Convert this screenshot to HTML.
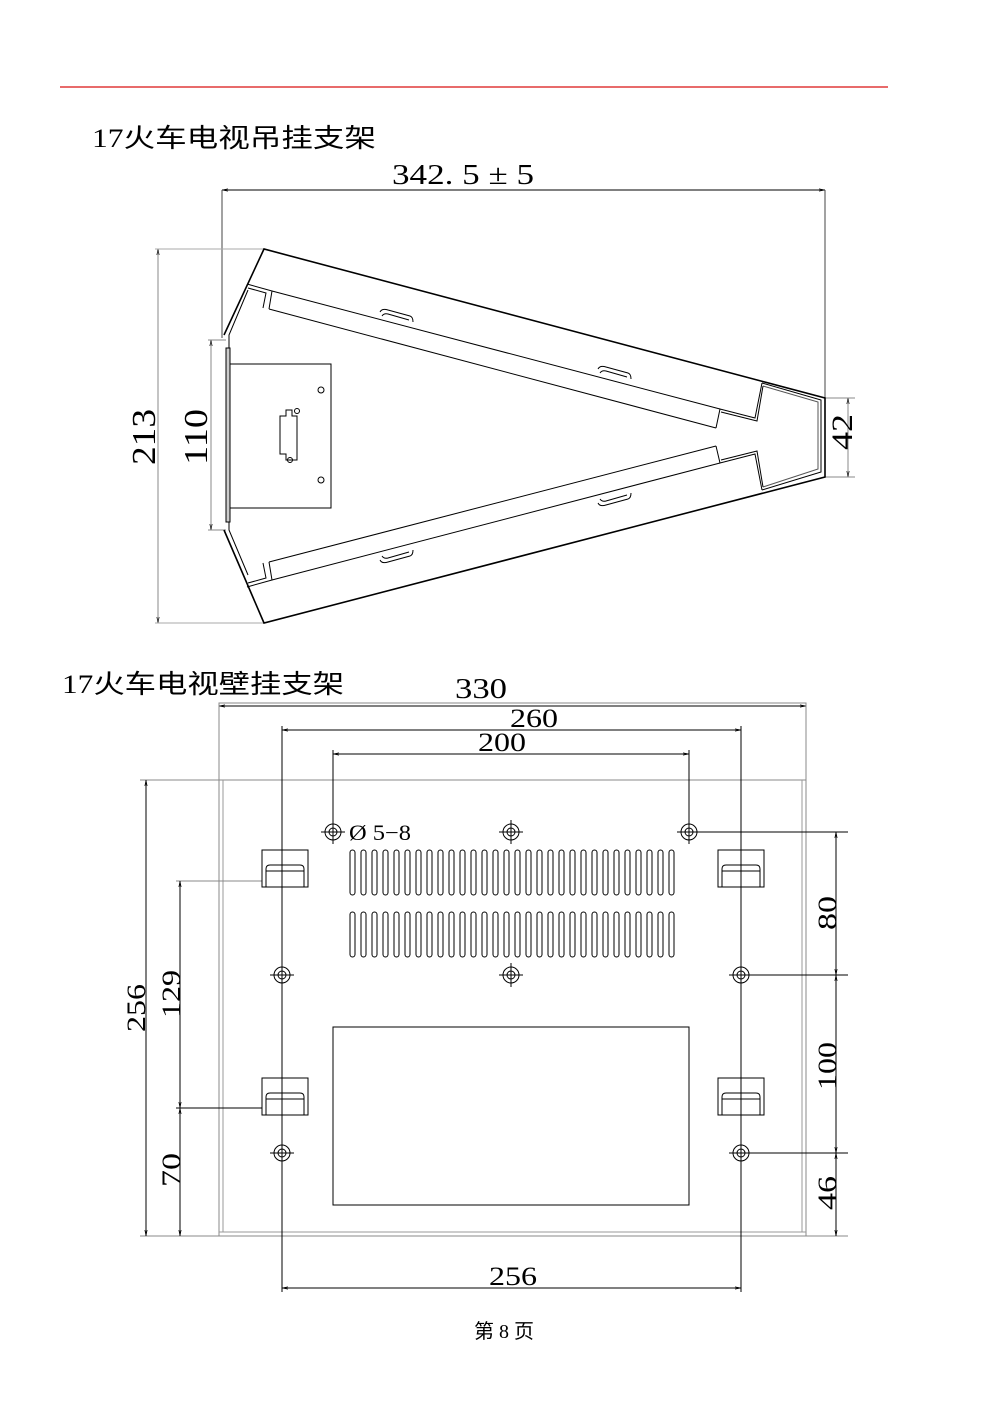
<!DOCTYPE html>
<html><head><meta charset="utf-8"><style>
html,body{margin:0;padding:0;background:#fff;}
svg{display:block;}
text{font-family:"Liberation Serif","Noto Serif CJK SC",serif;fill:#000;}
.cj{font-family:"Liberation Serif","Noto Sans CJK SC",serif;}
</style></head><body>
<svg width="993" height="1404" viewBox="0 0 993 1404" xmlns="http://www.w3.org/2000/svg">
<defs>
<marker id="a" viewBox="0 0 10 10" refX="10" refY="5" markerWidth="8" markerHeight="6" orient="auto-start-reverse"><path d="M0,3 L10,5 L0,7" fill="none" stroke="#000"/></marker>
<g id="h" stroke="#000" fill="none"><circle r="8"/><circle r="4"/><path d="M-12,0 h24 M0,-12 v24"/></g>
<g id="br" stroke="#000" fill="none"><rect x="262" y="850" width="46" height="37"/><path d="M266,887 v-18 q0,-4 4,-4 h30 q4,0 4,4 v18 M266,871 h38"/></g>
</defs>
<line x1="60" y1="87" x2="888" y2="87" stroke="#e03a3a" stroke-width="1.5"/>
<text x="92" y="147" font-size="26" class="cj" textLength="284" lengthAdjust="spacingAndGlyphs">17火车电视吊挂支架</text>
<text x="392" y="184" font-size="28" textLength="142" lengthAdjust="spacingAndGlyphs">342. 5 ± 5</text>

<g stroke="#000" fill="none" stroke-width="1">
<line x1="222" y1="190" x2="825" y2="190" marker-start="url(#a)" marker-end="url(#a)"/>
<line x1="222" y1="190" x2="222" y2="338" stroke="#444"/>
<line x1="825" y1="190" x2="825" y2="400" stroke="#444"/>
<line x1="158" y1="249" x2="158" y2="623" stroke="#888" marker-start="url(#a)" marker-end="url(#a)"/>
<line x1="155" y1="249" x2="264" y2="249" stroke="#aaa"/>
<line x1="155" y1="623" x2="264" y2="623" stroke="#aaa"/>
<line x1="211" y1="340" x2="211" y2="530" stroke="#888" marker-start="url(#a)" marker-end="url(#a)"/>
<line x1="208" y1="340" x2="226" y2="340" stroke="#888"/>
<line x1="208" y1="530" x2="226" y2="530" stroke="#888"/>
<line x1="848" y1="398" x2="848" y2="477" stroke="#888" marker-start="url(#a)" marker-end="url(#a)"/>
<line x1="825" y1="398" x2="855" y2="398" stroke="#888"/>
<line x1="825" y1="477" x2="855" y2="477" stroke="#888"/>
<polyline points="224,335 264,249 825,398 825,477 264,623 224,530" stroke-width="1.6"/>
<polyline points="248,290 229,335 229,530 248,575"/>
<!-- left corner plates -->
<polyline points="247,284 272,291 269,309"/>
<polyline points="248,288 266,293 263,308"/>
<polyline points="247,587 272,580 269,562"/>
<polyline points="248,583 266,578 263,563"/>
<!-- right liner -->
<polyline points="762,383 821,400 821,472 762,490"/>
<polyline points="763,386 818,402 818,469 763,487" stroke="#555"/>
<polyline points="762,383 755,418 720,409 716,428"/>
<polyline points="763,386 757,421 721,412"/>
<polyline points="762,490 755,454 720,463 716,446"/>
<polyline points="763,487 757,451 721,460"/>
<line x1="272" y1="291" x2="720" y2="409"/>
<line x1="269" y1="309" x2="716" y2="428"/>
<line x1="272" y1="580" x2="720" y2="463"/>
<line x1="269" y1="562" x2="716" y2="446"/>
<path d="M380,312 q2,-4 8,-2 l22,6 q3,1 3,6 M382,316 q2,-3 6,-2 l21,6"/>
<path d="M598,369 q2,-4 8,-2 l22,6 q3,1 3,6 M600,373 q2,-3 6,-2 l21,6"/>
<path d="M380,560 q2,4 8,2 l22,-6 q3,-1 3,-6 M382,556 q2,3 6,2 l21,-6"/>
<path d="M598,503 q2,4 8,2 l22,-6 q3,-1 3,-6 M600,499 q2,3 6,2 l21,-6"/>
<rect x="226" y="348" width="4" height="174" fill="#ccc"/>
<rect x="230" y="364" width="101" height="144"/>
<path d="M280,416 h6 v-6 h6 v6 h5 v44 h-11 v-6 h-6 z"/>
<circle cx="321" cy="390" r="3"/><circle cx="321" cy="480" r="3"/>
<circle cx="297" cy="411" r="2.5"/><circle cx="290" cy="460" r="2.5"/>
</g>
<text transform="translate(155,465) rotate(-90)" font-size="34" textLength="56" lengthAdjust="spacingAndGlyphs">213</text>
<text transform="translate(207,465) rotate(-90)" font-size="34" textLength="56" lengthAdjust="spacingAndGlyphs">110</text>
<text transform="translate(852,450) rotate(-90)" font-size="30" textLength="36" lengthAdjust="spacingAndGlyphs">42</text>

<text x="62" y="693" font-size="26" class="cj" textLength="282" lengthAdjust="spacingAndGlyphs">17火车电视壁挂支架</text>
<text x="455" y="698" font-size="28" textLength="52" lengthAdjust="spacingAndGlyphs">330</text>
<text x="510" y="727" font-size="26" textLength="48" lengthAdjust="spacingAndGlyphs">260</text>
<text x="478" y="751" font-size="26" textLength="48" lengthAdjust="spacingAndGlyphs">200</text>
<text x="489" y="1285" font-size="26" textLength="48" lengthAdjust="spacingAndGlyphs">256</text>
<text x="349" y="840" font-size="22" textLength="62" lengthAdjust="spacingAndGlyphs">Ø 5−8</text>
<g stroke="#000" fill="none" stroke-width="1">
<line x1="219" y1="706" x2="806" y2="706" marker-start="url(#a)" marker-end="url(#a)"/>
<line x1="282" y1="730" x2="741" y2="730" marker-start="url(#a)" marker-end="url(#a)"/>
<line x1="333" y1="754" x2="689" y2="754" marker-start="url(#a)" marker-end="url(#a)"/>
<line x1="282" y1="1288" x2="741" y2="1288" marker-start="url(#a)" marker-end="url(#a)"/>
<rect x="219" y="703" width="587" height="77" stroke="#888"/>
<rect x="219" y="780" width="587" height="456" stroke="#888"/>
<line x1="223" y1="780" x2="223" y2="1232" stroke="#999"/>
<line x1="802" y1="780" x2="802" y2="1232" stroke="#999"/>
<line x1="219" y1="1232" x2="806" y2="1232" stroke="#999"/>
<line x1="282" y1="726" x2="282" y2="1292"/>
<line x1="741" y1="726" x2="741" y2="1292"/>
<line x1="333" y1="750" x2="333" y2="840"/>
<line x1="689" y1="750" x2="689" y2="840"/>
<line x1="689" y1="832" x2="848" y2="832"/>
<line x1="741" y1="975" x2="848" y2="975"/>
<line x1="741" y1="1153" x2="848" y2="1153"/>
<line x1="806" y1="1236" x2="848" y2="1236" stroke="#888"/>
<line x1="836" y1="832" x2="836" y2="975" marker-start="url(#a)" marker-end="url(#a)"/>
<line x1="836" y1="975" x2="836" y2="1153" marker-start="url(#a)" marker-end="url(#a)"/>
<line x1="836" y1="1153" x2="836" y2="1236" marker-start="url(#a)" marker-end="url(#a)"/>
<line x1="140" y1="780" x2="219" y2="780" stroke="#888"/>
<line x1="140" y1="1236" x2="219" y2="1236" stroke="#888"/>
<line x1="176" y1="881" x2="262" y2="881" stroke="#888"/>
<line x1="176" y1="1108" x2="262" y2="1108"/>
<line x1="146" y1="780" x2="146" y2="1236" marker-start="url(#a)" marker-end="url(#a)"/>
<line x1="180" y1="881" x2="180" y2="1108" marker-start="url(#a)" marker-end="url(#a)"/>
<line x1="180" y1="1108" x2="180" y2="1236" marker-start="url(#a)" marker-end="url(#a)"/>
<rect x="333" y="1027" width="356" height="178"/>
<use href="#br"/><use href="#br" x="456"/><use href="#br" y="228"/><use href="#br" x="456" y="228"/>
<use href="#h" x="333" y="832"/><use href="#h" x="511" y="832"/><use href="#h" x="689" y="832"/>
<use href="#h" x="282" y="975"/><use href="#h" x="511" y="975"/><use href="#h" x="741" y="975"/>
<use href="#h" x="282" y="1153"/><use href="#h" x="741" y="1153"/>
<g id="s1">
<rect x="350" y="850" width="5" height="45" rx="2.5"/><rect x="361" y="850" width="5" height="45" rx="2.5"/><rect x="372" y="850" width="5" height="45" rx="2.5"/><rect x="383" y="850" width="5" height="45" rx="2.5"/><rect x="394" y="850" width="5" height="45" rx="2.5"/><rect x="405" y="850" width="5" height="45" rx="2.5"/><rect x="416" y="850" width="5" height="45" rx="2.5"/><rect x="427" y="850" width="5" height="45" rx="2.5"/><rect x="438" y="850" width="5" height="45" rx="2.5"/><rect x="449" y="850" width="5" height="45" rx="2.5"/><rect x="460" y="850" width="5" height="45" rx="2.5"/><rect x="471" y="850" width="5" height="45" rx="2.5"/><rect x="482" y="850" width="5" height="45" rx="2.5"/><rect x="493" y="850" width="5" height="45" rx="2.5"/><rect x="504" y="850" width="5" height="45" rx="2.5"/><rect x="515" y="850" width="5" height="45" rx="2.5"/><rect x="526" y="850" width="5" height="45" rx="2.5"/><rect x="537" y="850" width="5" height="45" rx="2.5"/><rect x="548" y="850" width="5" height="45" rx="2.5"/><rect x="559" y="850" width="5" height="45" rx="2.5"/><rect x="570" y="850" width="5" height="45" rx="2.5"/><rect x="581" y="850" width="5" height="45" rx="2.5"/><rect x="592" y="850" width="5" height="45" rx="2.5"/><rect x="603" y="850" width="5" height="45" rx="2.5"/><rect x="614" y="850" width="5" height="45" rx="2.5"/><rect x="625" y="850" width="5" height="45" rx="2.5"/><rect x="636" y="850" width="5" height="45" rx="2.5"/><rect x="647" y="850" width="5" height="45" rx="2.5"/><rect x="658" y="850" width="5" height="45" rx="2.5"/><rect x="669" y="850" width="5" height="45" rx="2.5"/>
</g>
<use href="#s1" y="62"/>
</g>
<text transform="translate(836,930) rotate(-90)" font-size="26" textLength="34" lengthAdjust="spacingAndGlyphs">80</text>
<text transform="translate(836,1090) rotate(-90)" font-size="26" textLength="48" lengthAdjust="spacingAndGlyphs">100</text>
<text transform="translate(836,1210) rotate(-90)" font-size="26" textLength="34" lengthAdjust="spacingAndGlyphs">46</text>
<text transform="translate(145,1032) rotate(-90)" font-size="26" textLength="48" lengthAdjust="spacingAndGlyphs">256</text>
<text transform="translate(180,1018) rotate(-90)" font-size="26" textLength="48" lengthAdjust="spacingAndGlyphs">129</text>
<text transform="translate(180,1187) rotate(-90)" font-size="26" textLength="34" lengthAdjust="spacingAndGlyphs">70</text>
<text x="474" y="1338" font-size="20" class="cj">第 8 页</text>
</svg>
</body></html>
